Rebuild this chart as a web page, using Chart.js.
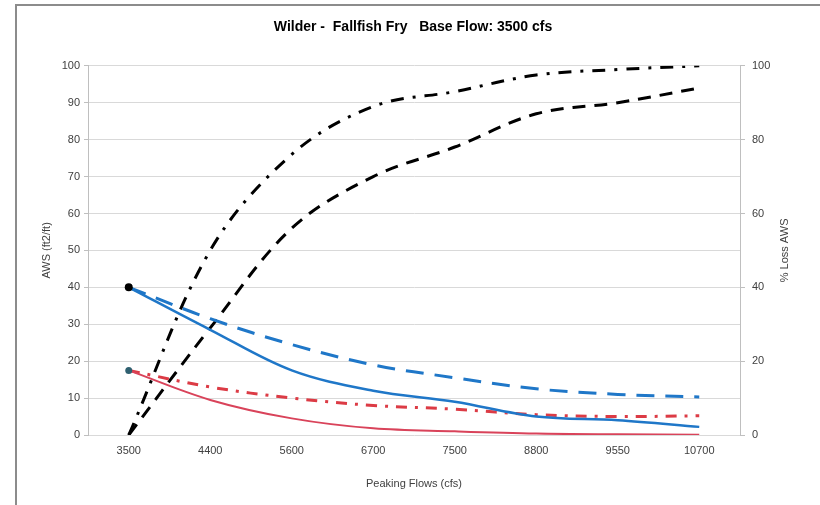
<!DOCTYPE html>
<html>
<head>
<meta charset="utf-8">
<script src="https://cdn.jsdelivr.net/npm/chart.js@4"></script>
<style>
  html, body { margin: 0; padding: 0; background: #fff; }
  #box { width: 820px; height: 505px; }
</style>
</head>
<body>
<div id="box"><canvas id="grafico" width="820" height="505"></canvas></div>
<script>
// vazões de pico (eixo x)
const vazoes = ['3500', '4400', '5600', '6700', '7500', '8800', '9550', '10700'];

// AWS (eixo esquerdo)
const awsAzul = [40, 28.5, 17.5, 12, 9, 5, 4, 2.2];
const awsAzulTracejado = [40, 31.5, 24.5, 19, 15.5, 12.5, 11, 10.3];
const awsVermelho = [17.5, 9.5, 4.5, 1.8, 1, 0.4, 0.2, 0.1];
const awsVermelhoTracoPonto = [17.5, 13, 10, 8, 7, 5.5, 5, 5.2];

// % perda AWS (eixo direito)
const perdaTracoPonto = [0, 50, 76, 89, 93, 97.5, 99, 100];
const perdaTracejado = [0, 29, 56, 70, 78, 87, 90, 94];

// só o primeiro ponto tem marcador
function marcador(r, n) {
  let v = [];
  for (let i = 0; i < n; i++) v[i] = (i == 0) ? r : 0;
  return v;
}

// moldura do gráfico (só esquerda e topo aparecem)
const moldura = {
  id: 'moldura',
  beforeDraw(chart) {
    const ctx = chart.ctx;
    ctx.save();
    ctx.strokeStyle = '#8c8c8c';
    ctx.lineWidth = 2;
    ctx.beginPath();
    ctx.moveTo(16, 505);
    ctx.lineTo(16, 5);
    ctx.lineTo(820, 5);
    ctx.stroke();
    ctx.restore();
  }
};

// título do eixo direito, lido de baixo para cima
const tituloDireita = {
  id: 'tituloDireita',
  afterDraw(chart) {
    const ctx = chart.ctx;
    const area = chart.chartArea;
    ctx.save();
    ctx.translate(785, (area.top + area.bottom) / 2);
    ctx.rotate(-Math.PI / 2);
    ctx.fillStyle = '#404040';
    ctx.font = '11px "Liberation Sans", Arial, sans-serif';
    ctx.textAlign = 'center';
    ctx.textBaseline = 'middle';
    ctx.fillText('% Loss AWS', 0, 0);
    ctx.restore();
  }
};

const fonte = { family: '"Liberation Sans", Arial, sans-serif', size: 11 };

const data = {
  labels: vazoes,
  datasets: [
    {
      label: 'AWS',
      data: awsAzul,
      borderColor: '#1f77c8',
      backgroundColor: '#000',
      borderWidth: 2.5,
      pointRadius: marcador(4, vazoes.length),
      pointBorderWidth: 0,
      yAxisID: 'y'
    },
    {
      label: 'AWS tracejado',
      data: awsAzulTracejado,
      borderColor: '#1f77c8',
      borderWidth: 3,
      borderDash: [18, 11],
      pointRadius: 0,
      yAxisID: 'y'
    },
    {
      label: 'AWS vermelho',
      data: awsVermelho,
      borderColor: '#d9435a',
      backgroundColor: '#2f6070',
      borderWidth: 2,
      pointRadius: marcador(3.5, vazoes.length),
      pointBorderWidth: 0,
      yAxisID: 'y'
    },
    {
      label: 'AWS vermelho traço-ponto',
      data: awsVermelhoTracoPonto,
      borderColor: '#dc3b45',
      borderWidth: 3,
      borderDash: [11, 8, 3, 8],
      pointRadius: 0,
      yAxisID: 'y'
    },
    {
      label: '% perda traço-ponto',
      data: perdaTracoPonto,
      borderColor: '#000',
      borderWidth: 3,
      borderDash: [13, 9, 3, 9],
      pointRadius: 0,
      yAxisID: 'y2'
    },
    {
      label: '% perda tracejado',
      data: perdaTracejado,
      borderColor: '#000',
      borderWidth: 3,
      borderDash: [13, 9],
      pointRadius: 0,
      yAxisID: 'y2'
    }
  ]
};

const config = {
  type: 'line',
  data: data,
  plugins: [moldura, tituloDireita],
  options: {
    responsive: false,
    animation: false,
    layout: { padding: { left: 30, right: 24, top: 15, bottom: 10 } },
    elements: { line: { tension: 0.35, fill: false } },
    plugins: {
      legend: { display: false },
      tooltip: { enabled: false },
      title: {
        display: true,
        text: 'Wilder -  Fallfish Fry   Base Flow: 3500 cfs',
        color: '#000',
        font: { family: '"Liberation Sans Narrow", "Liberation Sans", Arial, sans-serif', size: 14, weight: 'bold' },
        padding: { top: 4, bottom: 30 }
      }
    },
    scales: {
      x: {
        offset: true,
        grid: { display: false, drawTicks: false },
        border: { display: false },
        ticks: { color: '#404040', font: fonte, padding: 9, maxRotation: 0 },
        title: { display: true, text: 'Peaking Flows (cfs)', color: '#404040', font: fonte, padding: { top: 4 } },
        afterFit: function (s) { s.height = 60; }
      },
      y: {
        position: 'left',
        min: 0, max: 100,
        ticks: { stepSize: 10, color: '#404040', font: fonte, padding: 4 },
        grid: { color: '#d9d9d9', tickLength: 4, tickColor: '#bfbfbf' },
        border: { color: '#bfbfbf' },
        title: { display: true, text: 'AWS (ft2/ft)', color: '#404040', font: fonte, padding: { top: 10 } },
        afterFit: function (s) { s.width = 58; }
      },
      y2: {
        position: 'right',
        min: 0, max: 100,
        ticks: { stepSize: 20, color: '#404040', font: fonte, padding: 7 },
        grid: { drawOnChartArea: false, tickLength: 5, color: '#bfbfbf' },
        border: { color: '#bfbfbf' },
        afterFit: function (s) { s.width = 56; }
      }
    }
  }
};

const meuGrafico = new Chart(document.getElementById('grafico'), config);
</script>
</body>
</html>
